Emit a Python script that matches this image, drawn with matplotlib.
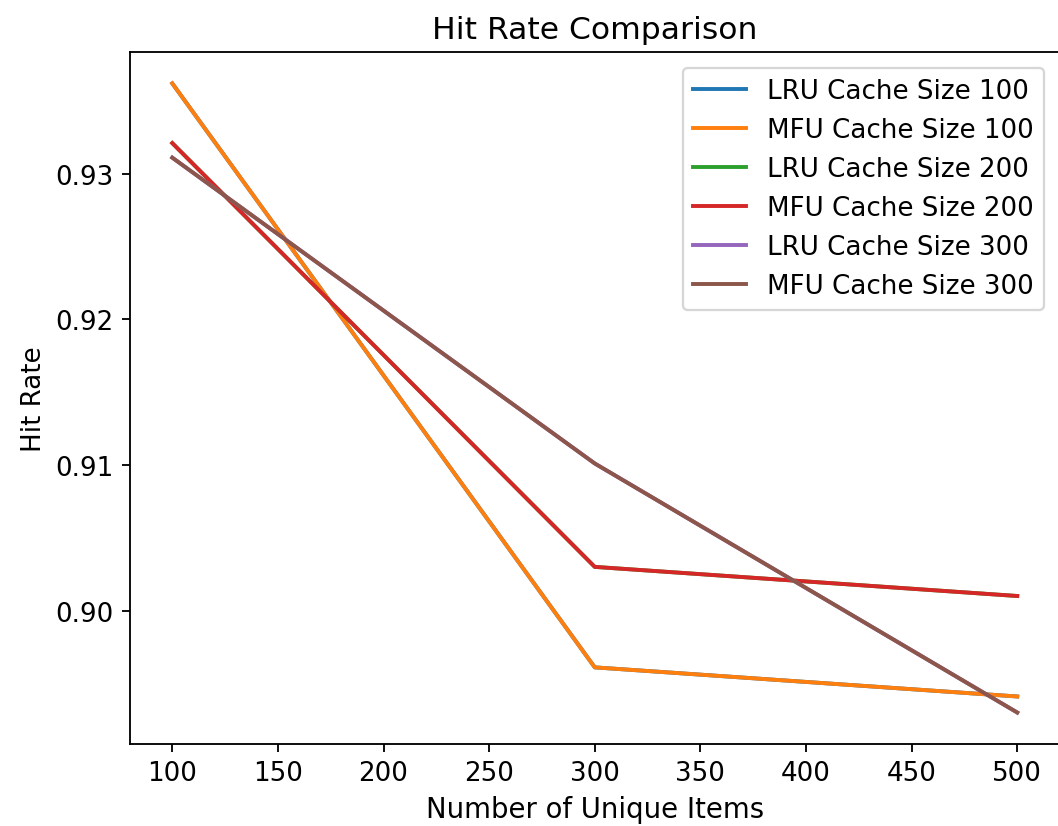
import matplotlib
matplotlib.use('Agg')
import matplotlib.pyplot as plt

# Donnees
unique_items = [100, 300, 500]
lru_100 = [0.9362, 0.8961, 0.8941]
mfu_100 = [0.9362, 0.8961, 0.8941]
lru_200 = [0.9321, 0.9030, 0.9010]
mfu_200 = [0.9321, 0.9030, 0.9010]
lru_300 = [0.9311, 0.9101, 0.8930]
mfu_300 = [0.9311, 0.9101, 0.8930]

series = [
    ('LRU Cache Size 100', lru_100),
    ('MFU Cache Size 100', mfu_100),
    ('LRU Cache Size 200', lru_200),
    ('MFU Cache Size 200', mfu_200),
    ('LRU Cache Size 300', lru_300),
    ('MFU Cache Size 300', mfu_300),
]

plt.rcParams['font.size'] = 11.4

dpi = 165
fig = plt.figure(figsize=(1058 / dpi, 827 / dpi), dpi=dpi)
ax = fig.add_axes([0.1229, 0.0992, 0.8785, 0.8368])

for label, values in series:
    ax.plot(unique_items, values, label=label, linewidth=1.7)

ax.set_title('Hit Rate Comparison')
ax.set_xlabel('Number of Unique Items', fontsize=12)
ax.set_ylabel('Hit Rate')
ax.set_yticks([0.90, 0.91, 0.92, 0.93])
ax.tick_params(labelsize=11.4)
ax.legend(loc='upper right', borderaxespad=0.6)

fig.savefig('out.png', dpi=dpi)
